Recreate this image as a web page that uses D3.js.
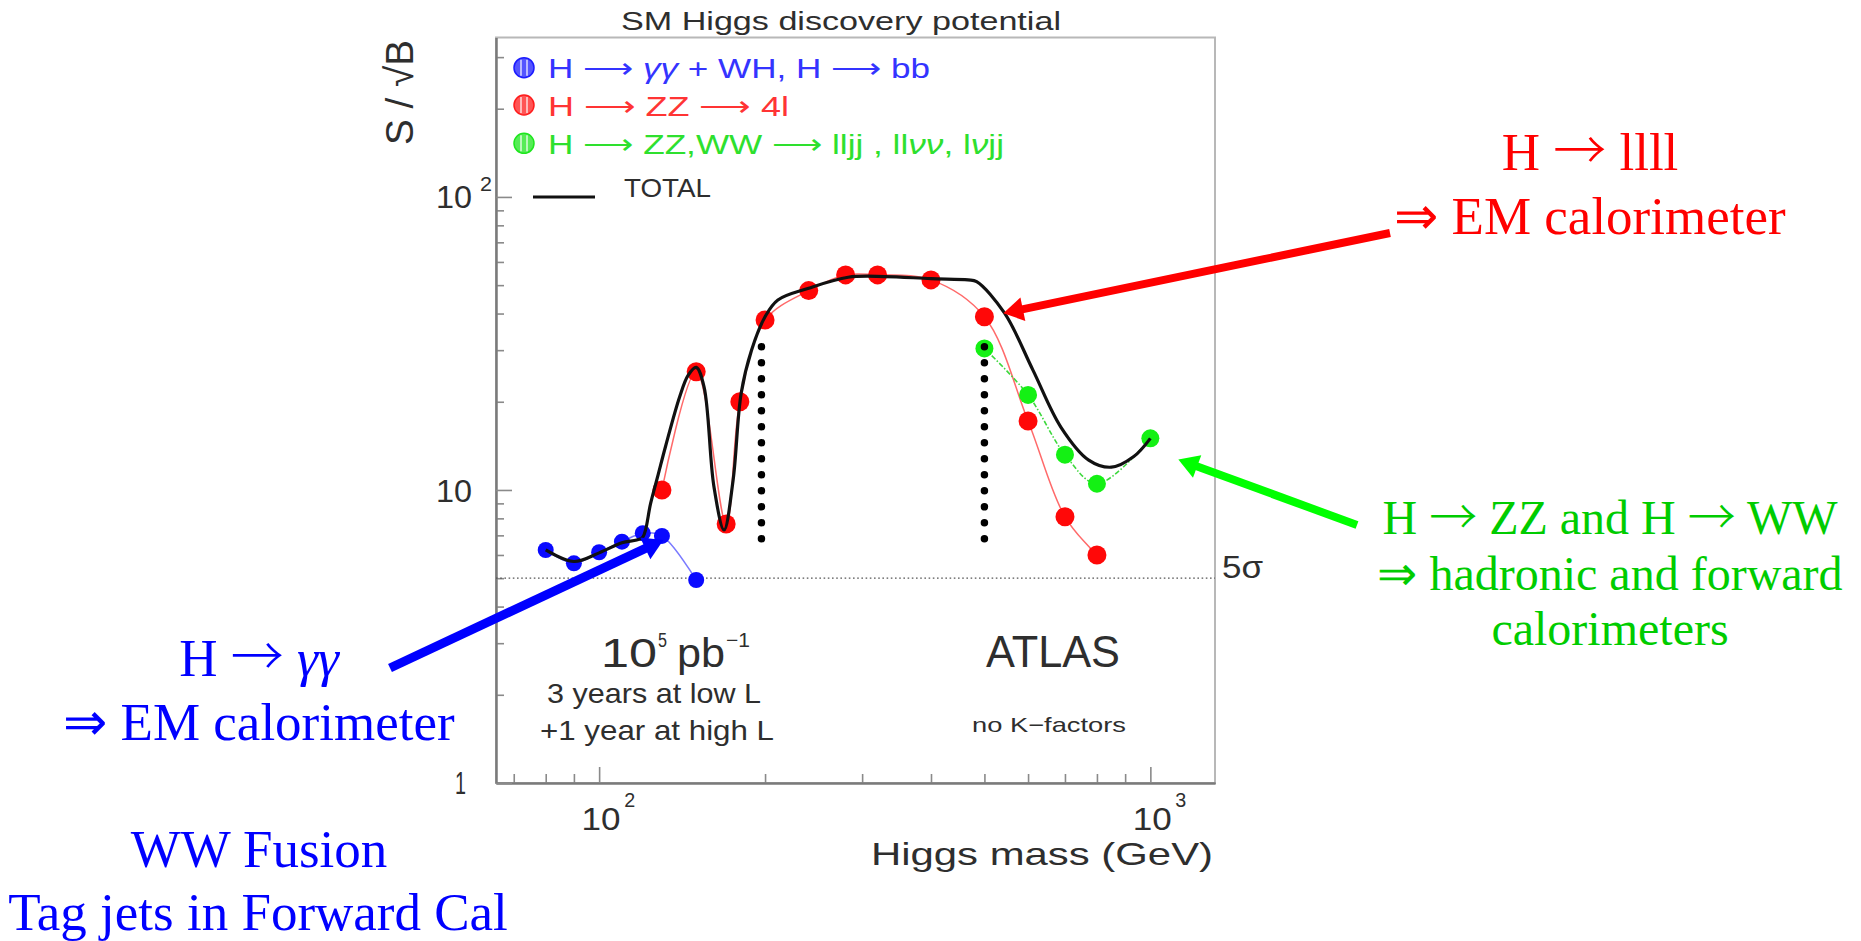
<!DOCTYPE html>
<html>
<head>
<meta charset="utf-8">
<script src="https://cdn.jsdelivr.net/npm/d3@7"></script>
<style>
  html, body { margin: 0; padding: 0; background: #fff; }
  svg { display: block; }
  text { white-space: pre; }
</style>
</head>
<body>
<script>
// ---- Data: Higgs mass (GeV) vs S/sqrt(B) per channel ----
const gammaMass = [80, 90, 100, 110, 120, 130, 150];
const gammaSig  = [6.24, 5.62, 6.13, 6.66, 7.12, 6.97, 4.93];

const fourLepMass = [130, 150, 170, 180, 200, 240, 280, 320, 400, 500, 600, 700, 800];
const fourLepSig  = [10.0, 25.3, 7.65, 20.0, 38.0, 47.9, 54.2, 54.2, 52.1, 39.0, 17.2, 8.1, 6.0];

const jetsMass = [500, 600, 700, 800, 1000];
const jetsSig  = [30.4, 21.1, 13.2, 10.5, 15.0];

const totalMass = [80, 90, 100, 110, 117, 120, 124, 128, 132, 140, 145, 150, 155, 161.5, 168.5, 175, 181, 189, 200, 211, 240, 283, 330, 400, 467, 484, 544, 612, 688, 773, 850, 933, 1000];
const totalSig  = [6.24, 5.7, 6.1, 6.6, 6.75, 6.9, 9.0, 11.3, 14.1, 20.8, 24.6, 26.2, 22.5, 10.3, 7.3, 10.8, 21.4, 30.0, 39.0, 44.5, 48.8, 53.2, 53.5, 52.6, 52.1, 51.4, 40.1, 25.7, 16.4, 12.65, 11.96, 13.0, 15.0];

// vertical dotted markers (mass) spanning this S/sqrt(B) range
const markerMass  = [197, 500];
const markerRange = [6.8, 30.8];
const fiveSigma = 5;

// axis ticks
const xMajor = [100, 1000];
const xMajorExp = ["2", "3"];
const xMinor = [70, 80, 90, 200, 300, 400, 500, 600, 700, 800, 900];
const yMajor = [1, 10, 100];
const yMinor = [2, 3, 4, 5, 6, 7, 8, 9, 20, 30, 40, 50, 60, 70, 80, 90, 200, 300];

// legend entries, split into plain / arrow / greek pieces
const legendLabels = [
  ["H ", "⟶", " ", "γγ", " + WH, H ", "⟶", " bb"],
  ["H ", "⟶", " ZZ ", "⟶", " 4l"],
  ["H ", "⟶", " ZZ,WW ", "⟶", " lljj , ll", "νν", ", l", "ν", "jj"]
];
const legendColors = ["#1c1cff", "#ff1c1c", "#1ee61e"];
const legendTextColors = ["#3434ff", "#ff3434", "#2ee02e"];

// ---- Layout ----
const W = 1861, H = 941;
const frame = { left: 496, right: 1215, top: 37.5, bottom: 783 };
const chartFont = "'Liberation Sans', Arial, sans-serif";
const noteFont = "'Liberation Serif', 'Times New Roman', serif";
const arrowFont = "'DejaVu Sans', sans-serif";
const ink = "#2e2e2e";

const svg = d3.select("body").append("svg").attr("width", W).attr("height", H);
svg.append("rect").attr("width", W).attr("height", H).attr("fill", "#fff");

const x = d3.scaleLog().domain([65, 1310]).range([frame.left, frame.right]);
const y = d3.scaleLog().domain([1, 350]).range([frame.bottom, frame.top]);

// frame
svg.append("rect")
  .attr("x", frame.left).attr("y", frame.top)
  .attr("width", frame.right - frame.left).attr("height", frame.bottom - frame.top)
  .attr("fill", "none").attr("stroke", "#b8b8b8").attr("stroke-width", 2);

// axes with inward ticks
function styleAxis(g) {
  g.select(".domain").attr("stroke", "#7a7a7a").attr("stroke-width", 2);
  g.selectAll(".tick line").attr("stroke", "#8a8a8a").attr("stroke-width", 1.6);
}
const gx = svg.append("g").attr("transform", `translate(0,${frame.bottom})`);
gx.append("g").call(d3.axisBottom(x).tickValues(xMinor).tickSize(-9).tickSizeOuter(0).tickFormat(() => "")).call(styleAxis);
gx.append("g").call(d3.axisBottom(x).tickValues(xMajor).tickSize(-16).tickSizeOuter(0).tickFormat(() => "")).call(styleAxis);

const gy = svg.append("g").attr("transform", `translate(${frame.left},0)`);
gy.append("g").call(d3.axisLeft(y).tickValues(yMinor).tickSize(-8).tickSizeOuter(0).tickFormat(() => "")).call(styleAxis);
gy.append("g").call(d3.axisLeft(y).tickValues(yMajor).tickSize(-16).tickSizeOuter(0).tickFormat(() => "")).call(styleAxis);

// text helper: txt may be a string or a list of pieces; arrows and greek get their own styling
const isArrow = s => /^[→⟶]$/.test(s.trim());
const isGreek = s => /^[γν]+$/.test(s);
function label(txt, px, py, size, opts = {}) {
  const t = svg.append("text")
    .attr("x", px).attr("y", py)
    .attr("font-family", opts.family || chartFont)
    .attr("font-size", size)
    .attr("fill", opts.color || ink)
    .attr("text-anchor", opts.anchor || "start");
  const pieces = Array.isArray(txt) ? txt : [txt];
  pieces.forEach(p => {
    const s = t.append("tspan").text(p);
    if (isArrow(p)) s.attr("font-family", opts.arrowFamily || arrowFont).attr("font-weight", 300);
    if (isGreek(p) && opts.italicGreek) s.attr("font-style", "italic");
  });
  if (opts.len) t.attr("textLength", opts.len).attr("lengthAdjust", "spacingAndGlyphs");
  if (opts.transform) t.attr("transform", opts.transform);
  return t;
}

// x tick labels: 10^2, 10^3
xMajor.forEach((v, i) => {
  label("10", x(v) + 2, frame.bottom + 47, 32, { anchor: "middle", len: 39 });
  label(xMajorExp[i], x(v) + 25, frame.bottom + 24, 21, { len: 11 });
});
// y tick labels
label("1", frame.left - 30, y(1) + 11, 31, { anchor: "end", len: 11 });
label("10", frame.left - 24, y(10) + 12, 31, { anchor: "end", len: 36 });
label("10", frame.left - 24, y(100) + 11, 31, { anchor: "end", len: 36 });
label("2", frame.left - 16, y(100) - 6, 21, { len: 12 });

// titles
label("SM Higgs discovery potential", 841, 30, 25, { anchor: "middle", len: 440 });
label("Higgs mass (GeV)", frame.right - 2, frame.bottom + 82, 32, { anchor: "end", len: 342 });
label("S / √B", 0, 0, 39, { anchor: "middle", len: 105, transform: "translate(413,92.5) rotate(-90)" });
label("5σ", frame.right + 7, y(fiveSigma), 32, { len: 41 });

// in-frame notes
label("10", 601, 667, 40, { len: 56 });
label("5", 658, 647, 20, { len: 9 });
label("pb", 677, 667, 40, { len: 48 });
label("−1", 726, 647, 20, { len: 24 });
label("3 years at low L", 654, 703, 28, { anchor: "middle", len: 214 });
label("+1 year at high L", 657, 740, 28, { anchor: "middle", len: 234 });
label("ATLAS", 1053, 667, 44, { anchor: "middle", len: 134 });
label("no K−factors", 1049, 732, 21, { anchor: "middle", len: 154 });

// 5 sigma reference line
svg.append("line")
  .attr("x1", frame.left).attr("x2", frame.right)
  .attr("y1", y(fiveSigma)).attr("y2", y(fiveSigma))
  .attr("stroke", "#555").attr("stroke-width", 1.3).attr("stroke-dasharray", "1.6 2.6");

// legend
const legendRows = [67.7, 105, 143.3];
const legendLens = [382, 241, 456];
legendLabels.forEach((lab, i) => {
  const cy = legendRows[i], cx = 524, r = 10;
  svg.append("circle").attr("cx", cx).attr("cy", cy).attr("r", r)
    .attr("fill", legendColors[i]).attr("fill-opacity", 0.75)
    .attr("stroke", legendColors[i]).attr("stroke-width", 1.5);
  [-3, 3].forEach(dx => {
    const h = Math.sqrt(r * r - dx * dx) - 1.5;
    svg.append("line").attr("x1", cx + dx).attr("x2", cx + dx)
      .attr("y1", cy - h).attr("y2", cy + h)
      .attr("stroke", "#fff").attr("stroke-width", 1.4).attr("stroke-opacity", 0.85);
  });
  label(lab, 548, cy + 10.5, 28, { color: legendTextColors[i], len: legendLens[i], italicGreek: true });
});
svg.append("line").attr("x1", 533).attr("x2", 595).attr("y1", 197).attr("y2", 197)
  .attr("stroke", "#111").attr("stroke-width", 3);
label("TOTAL", 624, 197, 26, { len: 87 });

// ---- Curves and points ----
const zip = (a, b) => a.map((v, i) => [v, b[i]]);
const curve = d3.line().x(d => x(d[0])).y(d => y(d[1])).curve(d3.curveCatmullRom.alpha(0.5));

svg.append("path").attr("d", curve(zip(gammaMass, gammaSig)))
  .attr("fill", "none").attr("stroke", "#7a7aff").attr("stroke-width", 1.6);
svg.append("path").attr("d", curve(zip(fourLepMass, fourLepSig)))
  .attr("fill", "none").attr("stroke", "#ff6a6a").attr("stroke-width", 1.5);
svg.append("path").attr("d", curve(zip(jetsMass, jetsSig)))
  .attr("fill", "none").attr("stroke", "#3ed83e").attr("stroke-width", 1.6).attr("stroke-dasharray", "5 2 1.5 2");

function points(ms, vs, color, r) {
  svg.append("g").selectAll("circle").data(zip(ms, vs)).join("circle")
    .attr("cx", d => x(d[0])).attr("cy", d => y(d[1])).attr("r", r)
    .attr("fill", color);
}
points(gammaMass, gammaSig, "#0a0aff", 8);
points(fourLepMass, fourLepSig, "#ff0808", 9.5);
points(jetsMass, jetsSig, "#14f014", 9);

svg.append("path").attr("d", curve(zip(totalMass, totalSig)))
  .attr("fill", "none").attr("stroke", "#111").attr("stroke-width", 3.2)
  .attr("stroke-linejoin", "round");

// dotted vertical markers
markerMass.forEach(m => {
  svg.append("line")
    .attr("x1", x(m)).attr("x2", x(m))
    .attr("y1", y(markerRange[1])).attr("y2", y(markerRange[0]))
    .attr("stroke", "#000").attr("stroke-width", 7.5)
    .attr("stroke-linecap", "round").attr("stroke-dasharray", "0 16");
});

// ---- Annotation arrows ----
function arrow(tail, tipData, color, w, headLen, headW) {
  const x0 = tail[0], y0 = tail[1];
  const x1 = x(tipData[0]), y1 = y(tipData[1]);
  const dx = x1 - x0, dy = y1 - y0, L = Math.hypot(dx, dy);
  const ux = dx / L, uy = dy / L, px = -uy, py = ux;
  const bx = x1 - ux * headLen, by = y1 - uy * headLen;
  svg.append("line").attr("x1", x0).attr("y1", y0).attr("x2", bx + ux * 2).attr("y2", by + uy * 2)
    .attr("stroke", color).attr("stroke-width", w);
  svg.append("path")
    .attr("d", `M${x1},${y1}L${bx + px * headW / 2},${by + py * headW / 2}L${bx - px * headW / 2},${by - py * headW / 2}Z`)
    .attr("fill", color);
}
arrow([1390, 233], [541, 40.1], "#ff0000", 8, 20, 24);
arrow([1357, 525], [1124, 12.7], "#00ff00", 8, 20, 24);
arrow([390, 668], [130.8, 6.75], "#0000ff", 9, 20, 24);

// ---- Annotation text ----
const noteRed = "#ff0000", noteGreen = "#00cc00", noteBlue = "#0000ff";
const serifArrow = "'Noto Sans CJK JP', 'DejaVu Serif', serif";
const note = (txt, px, py, size, color) =>
  label(txt, px, py, size, { family: noteFont, color, anchor: "middle", arrowFamily: serifArrow, italicGreek: true });

note(["H ", "→", " llll"], 1590, 170, 53, noteRed);
note("⇒ EM calorimeter", 1590, 234, 53, noteRed);

note(["H ", "→", " ZZ and H ", "→", " WW"], 1610, 534, 48, noteGreen);
note("⇒ hadronic and forward", 1610, 590, 48, noteGreen);
note("calorimeters", 1610, 645, 48, noteGreen);

note(["H ", "→", " ", "γγ"], 259, 676, 53, noteBlue);
note("⇒ EM calorimeter", 259, 740, 53, noteBlue);
note("WW Fusion", 259, 867, 53, noteBlue);
note("Tag jets in Forward Cal", 258, 930, 53, noteBlue);
</script>
</body>
</html>
